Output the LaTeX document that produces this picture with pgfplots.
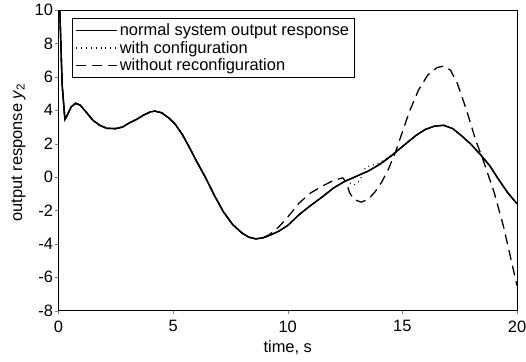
\documentclass[border=0pt]{standalone}
\usepackage{pgfplots}
\pgfplotsset{compat=1.18}
\usepackage{fontspec}
\setmainfont{Liberation Sans}
\pgfplotstableread{
t y
0.00 12.0
0.08 9.0
0.16 5.5
0.28 3.45
0.40 3.75
0.55 4.20
0.75 4.42
0.95 4.30
1.20 3.90
1.50 3.40
1.80 3.10
2.10 2.92
2.50 2.90
2.80 3.00
3.10 3.25
3.40 3.45
3.70 3.70
4.00 3.90
4.20 3.95
4.50 3.85
4.80 3.55
5.10 3.15
5.40 2.55
5.70 1.80
6.00 1.00
6.40 0.00
6.80 -1.10
7.20 -2.10
7.60 -2.85
8.00 -3.35
8.30 -3.60
8.60 -3.70
8.90 -3.65
9.20 -3.50
9.60 -3.25
10.00 -2.90
10.50 -2.25
11.00 -1.70
11.50 -1.20
12.00 -0.65
12.50 -0.25
13.00 0.05
13.50 0.35
14.00 0.75
14.50 1.25
14.80 1.60
15.20 2.05
15.60 2.50
16.00 2.85
16.40 3.05
16.80 3.10
17.20 2.90
17.60 2.45
18.00 1.95
18.40 1.35
18.80 0.70
19.20 -0.15
19.60 -0.95
20.00 -1.60
}\solid
\pgfplotstableread{
t y
0.00 12.0
0.08 9.0
0.16 5.5
0.28 3.45
0.40 3.75
0.55 4.20
0.75 4.42
0.95 4.30
1.20 3.90
1.50 3.40
1.80 3.10
2.10 2.92
2.50 2.90
2.80 3.00
3.10 3.25
3.40 3.45
3.70 3.70
4.00 3.90
4.20 3.95
4.50 3.85
4.80 3.55
5.10 3.15
5.40 2.55
5.70 1.80
6.00 1.00
6.40 0.00
6.80 -1.10
7.20 -2.10
7.60 -2.85
8.00 -3.35
8.30 -3.60
8.60 -3.70
8.90 -3.65
9.20 -3.50
9.60 -3.25
10.00 -2.90
10.50 -2.25
11.00 -1.70
11.50 -1.20
12.00 -0.65
12.50 -0.25
12.90 -0.48
13.15 -0.20
13.40 0.60
13.60 0.66
14.00 0.85
14.50 1.30
14.80 1.60
15.20 2.05
15.60 2.50
16.00 2.85
16.40 3.05
16.80 3.10
17.20 2.90
17.60 2.45
18.00 1.95
18.40 1.35
18.80 0.70
19.20 -0.15
19.60 -0.95
20.00 -1.60
}\dotted
\pgfplotstableread{
t y
0.00 12.0
0.08 9.0
0.16 5.5
0.28 3.45
0.40 3.75
0.55 4.20
0.75 4.42
0.95 4.30
1.20 3.90
1.50 3.40
1.80 3.10
2.10 2.92
2.50 2.90
2.80 3.00
3.10 3.25
3.40 3.45
3.70 3.70
4.00 3.90
4.20 3.95
4.50 3.85
4.80 3.55
5.10 3.15
5.40 2.55
5.70 1.80
6.00 1.00
6.40 0.00
6.80 -1.10
7.20 -2.10
7.60 -2.85
8.00 -3.35
8.30 -3.60
8.60 -3.70
8.90 -3.65
9.20 -3.45
9.60 -3.00
10.00 -2.40
10.50 -1.55
11.00 -0.95
11.50 -0.55
12.00 -0.20
12.40 -0.05
12.55 -0.30
12.70 -0.95
12.90 -1.35
13.20 -1.50
13.50 -1.35
13.80 -0.90
14.10 -0.30
14.40 0.50
14.70 1.50
15.00 2.70
15.30 3.90
15.70 5.20
16.10 6.10
16.50 6.55
16.80 6.65
17.10 6.40
17.40 5.60
17.80 4.00
18.20 2.20
18.50 1.10
19.00 -0.90
19.40 -2.90
19.70 -4.70
20.00 -6.50
}\dashed
\begin{document}
\begin{tikzpicture}[font=\fontsize{16.5}{19}\selectfont]
\path[use as bounding box] (-58.5bp,-51.4bp) rectangle ++(526bp,362bp);
\begin{axis}[
  at={(0,0)}, anchor=south west,
  scale only axis,
  width=458.5bp, height=300.5bp,
  xmin=0, xmax=20, ymin=-8, ymax=10,
  xtick={0,5,...,20}, ytick={-8,-6,...,10},
  tick align=outside, tick pos=left,
  major tick length=3.5bp,
  /pgf/number format/assume math mode=true,
  xticklabel style={yshift=-3bp},
  yticklabel style={xshift=1.5bp},
  xlabel={time, s}, ylabel={output response \textit{y}\textsubscript{2}},
  xlabel style={at={(axis description cs:0.5,0)}, anchor=center, yshift=-37.4bp},
  ylabel style={at={([xshift=-40bp,yshift=8bp]axis description cs:0,0.5)}, anchor=center},
  clip=true,
  legend style={at={(axis cs:0.59,9.5)}, anchor=north west, draw=black, line width=0.8pt,
    inner xsep=3bp, inner ysep=3bp, row sep=0bp, font=\fontsize{16.5}{19}\selectfont},
  legend cell align=left,
  legend image code/.code={\draw[#1] (3bp,0bp) -- (44bp,0bp);},
]
\addplot[black, line width=1.4pt] table[x=t,y=y] {\solid};
\addlegendentry{normal system output response}
\addplot[black, line width=1.2pt, dash pattern=on 0.9pt off 4pt] table[x=t,y=y] {\dotted};
\addlegendentry{with configuration}
\addplot[black, line width=1.3pt, dash pattern=on 10bp off 6bp] table[x=t,y=y] {\dashed};
\addlegendentry{without reconfiguration}
\addplot[black, line width=1.4pt, forget plot] table[x=t,y=y] {\solid};
\end{axis}
\end{tikzpicture}
\end{document}
